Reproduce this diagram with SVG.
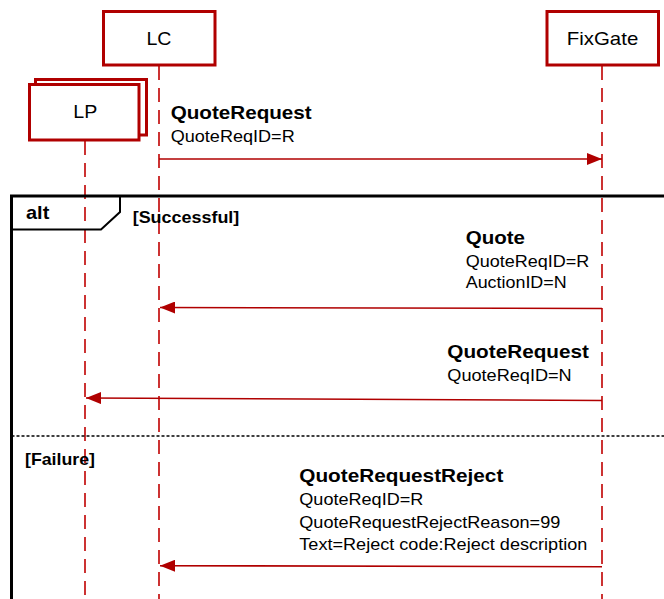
<svg xmlns="http://www.w3.org/2000/svg" width="664" height="599" viewBox="0 0 664 599">
<style>
.box{fill:#fff;stroke:#B00000;stroke-width:3}
.life{stroke:#C00000;stroke-width:1.6;stroke-dasharray:14 8;fill:none}
.msg{stroke:#B00000;stroke-width:1.6;fill:none}
.t{font-family:"Liberation Sans",Arial,sans-serif;fill:#000}
.n{font-size:19px}
.b{font-weight:bold;font-size:19px}
.r{font-size:17px}
.g{font-weight:bold;font-size:17px}
</style>
<defs>
<marker id="ah" markerWidth="15" markerHeight="12" refX="15" refY="6" orient="auto" markerUnits="userSpaceOnUse">
<path d="M0,0 L15,6 L0,12 Z" fill="#B00000"/>
</marker>
</defs>
<rect width="664" height="599" fill="#fff"/>
<g id="lifelines">
<line class="life" x1="159" y1="66" x2="159" y2="599"/>
<line class="life" x1="602" y1="66" x2="602" y2="599"/>
<line class="life" x1="85" y1="141" x2="85" y2="599"/>
</g>
<g id="LC">
<rect class="box" x="103.5" y="11.5" width="111.5" height="53.5"/>
<text class="t n" x="159" y="45" text-anchor="middle" textLength="25" lengthAdjust="spacingAndGlyphs">LC</text>
</g>
<g id="FixGate">
<rect class="box" x="547" y="11.5" width="111.5" height="53.5"/>
<text class="t n" x="602.5" y="45" text-anchor="middle" textLength="71.5" lengthAdjust="spacingAndGlyphs">FixGate</text>
</g>
<g id="LP">
<rect class="box" x="35.5" y="79.5" width="111" height="55.5"/>
<rect class="box" x="29.5" y="84.5" width="109.5" height="55.5"/>
<text class="t n" x="85.3" y="118.3" text-anchor="middle" textLength="24" lengthAdjust="spacingAndGlyphs">LP</text>
</g>
<g id="alt-frame">
<path d="M11.5,599 L11.5,196 L664,196" fill="none" stroke="#000" stroke-width="3"/>
<path d="M11.5,229.5 L101,229.5 L120,212 L120,196" fill="none" stroke="#000" stroke-width="2"/>
<line x1="11.5" y1="436" x2="664" y2="436" stroke="#000" stroke-width="1.3" stroke-dasharray="3 2"/>
<text class="t b" x="26" y="218.5" textLength="23.3" lengthAdjust="spacingAndGlyphs">alt</text>
<text class="t g" x="132.7" y="222.5" textLength="106.6" lengthAdjust="spacingAndGlyphs">[Successful]</text>
<text class="t g" x="25" y="465" textLength="70" lengthAdjust="spacingAndGlyphs">[Failure]</text>
</g>
<g id="connectors">
<line class="msg" x1="159" y1="159" x2="602" y2="159" marker-end="url(#ah)"/>
<line class="msg" x1="602" y1="308.5" x2="160" y2="307.5" marker-end="url(#ah)"/>
<line class="msg" x1="602" y1="400.5" x2="86" y2="398" marker-end="url(#ah)"/>
<line class="msg" x1="602" y1="566.7" x2="160" y2="565.7" marker-end="url(#ah)"/>
</g>
<g id="labels">
<text class="t b" x="170.7" y="119.3" textLength="141" lengthAdjust="spacingAndGlyphs">QuoteRequest</text>
<text class="t r" x="170.7" y="141.7" textLength="124" lengthAdjust="spacingAndGlyphs">QuoteReqID=R</text>
<text class="t b" x="465.7" y="244.3" textLength="59.3" lengthAdjust="spacingAndGlyphs">Quote</text>
<text class="t r" x="465.7" y="266.7" textLength="123.6" lengthAdjust="spacingAndGlyphs">QuoteReqID=R</text>
<text class="t r" x="465.7" y="288.3" textLength="101" lengthAdjust="spacingAndGlyphs">AuctionID=N</text>
<text class="t b" x="447.3" y="358.3" textLength="141.7" lengthAdjust="spacingAndGlyphs">QuoteRequest</text>
<text class="t r" x="447.3" y="380.7" textLength="124.4" lengthAdjust="spacingAndGlyphs">QuoteReqID=N</text>
<text class="t b" x="299.3" y="482.3" textLength="204" lengthAdjust="spacingAndGlyphs">QuoteRequestReject</text>
<text class="t r" x="299.3" y="505" textLength="124" lengthAdjust="spacingAndGlyphs">QuoteReqID=R</text>
<text class="t r" x="299.3" y="527.7" textLength="261" lengthAdjust="spacingAndGlyphs">QuoteRequestRejectReason=99</text>
<text class="t r" x="299.3" y="550" textLength="288" lengthAdjust="spacingAndGlyphs">Text=Reject code:Reject description</text>
</g>
</svg>
